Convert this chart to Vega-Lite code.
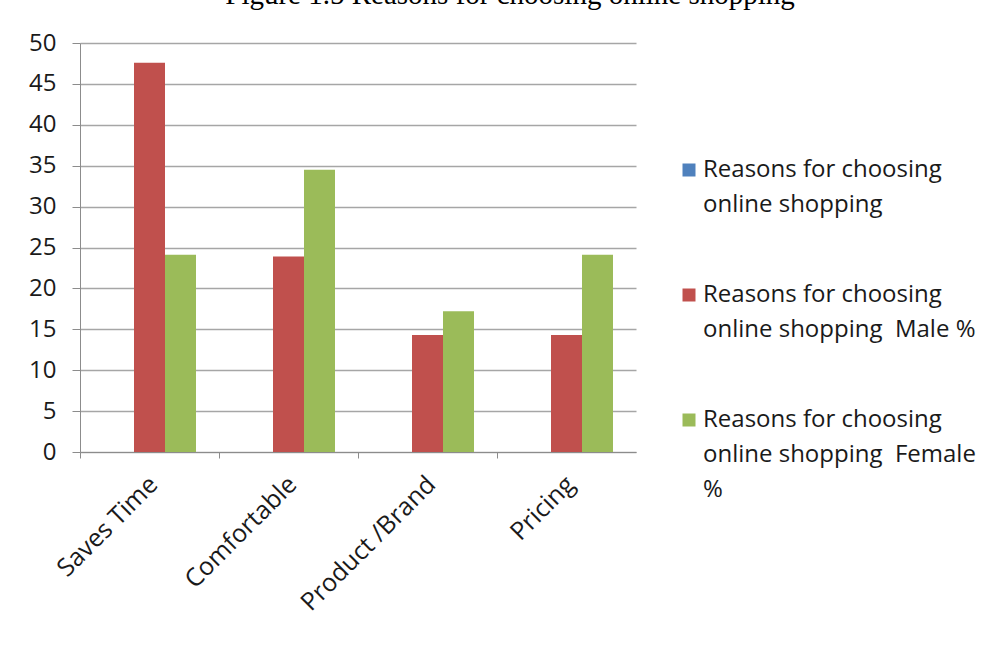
{
  "$schema": "https://vega.github.io/schema/vega-lite/v6.json",
  "autosize": "none",
  "width": 556,
  "height": 409,
  "padding": {"left": 80, "top": 43, "right": 367, "bottom": 193},
  "background": "white",
  "title": {
    "text": "Figure 1.5 Reasons for choosing online shopping",
    "font": "Liberation Serif",
    "fontSize": 29,
    "fontWeight": "normal",
    "color": "#000000",
    "anchor": "middle",
    "baseline": "alphabetic",
    "offset": -2,
    "dx": 152
  },
  "data": {
    "values": [
      {"reason": "Saves Time", "series": "Reasons for choosing online shopping  Male %", "value": 47.6},
      {"reason": "Saves Time", "series": "Reasons for choosing online shopping  Female %", "value": 24.1},
      {"reason": "Comfortable", "series": "Reasons for choosing online shopping  Male %", "value": 23.9},
      {"reason": "Comfortable", "series": "Reasons for choosing online shopping  Female %", "value": 34.5},
      {"reason": "Product /Brand", "series": "Reasons for choosing online shopping  Male %", "value": 14.3},
      {"reason": "Product /Brand", "series": "Reasons for choosing online shopping  Female %", "value": 17.2},
      {"reason": "Pricing", "series": "Reasons for choosing online shopping  Male %", "value": 14.3},
      {"reason": "Pricing", "series": "Reasons for choosing online shopping  Female %", "value": 24.1}
    ]
  },
  "mark": {"type": "bar"},
  "encoding": {
    "x": {
      "field": "reason",
      "type": "nominal",
      "sort": ["Saves Time", "Comfortable", "Product /Brand", "Pricing"],
      "scale": {"paddingInner": 0, "paddingOuter": 0},
      "axis": {
        "title": null,
        "bandPosition": 0,
        "labelAngle": -45,
        "labelAlign": "right",
        "labelBaseline": "middle",
        "labelOffset": 4,
        "labelPadding": 22,
        "labelFont": "Open Sans",
        "labelFontSize": 25,
        "labelColor": "#1a1a1a",
        "labelLimit": 400,
        "tickSize": 6,
        "tickColor": "#8c8c8c",
        "domainColor": "#8c8c8c",
        "grid": false
      }
    },
    "xOffset": {
      "field": "series",
      "type": "nominal",
      "scale": {
        "domain": ["Reasons for choosing online shopping", "Reasons for choosing online shopping  Male %", "Reasons for choosing online shopping  Female %"],
        "paddingInner": 0,
        "paddingOuter": 0.742
      }
    },
    "y": {
      "field": "value",
      "type": "quantitative",
      "scale": {"domain": [0, 50], "nice": false},
      "axis": {
        "title": null,
        "values": [0, 5, 10, 15, 20, 25, 30, 35, 40, 45, 50],
        "labelFont": "Open Sans",
        "labelFontSize": 24,
        "labelColor": "#1a1a1a",
        "labelPadding": 16,
        "tickSize": 8,
        "tickColor": "#8c8c8c",
        "domainColor": "#8c8c8c",
        "gridColor": "#a6a6a6",
        "gridWidth": 1.3
      }
    },
    "color": {
      "field": "series",
      "type": "nominal",
      "scale": {
        "domain": ["Reasons for choosing online shopping", "Reasons for choosing online shopping  Male %", "Reasons for choosing online shopping  Female %"],
        "range": ["#4F81BD", "#C0504D", "#9BBB59"]
      },
      "legend": {
        "title": null,
        "orient": "none",
        "legendX": 597,
        "legendY": 115,
        "symbolType": "square",
        "symbolSize": 169,
        "symbolStrokeWidth": 0,
        "symbolOpacity": 1,
        "labelFont": "Open Sans",
        "labelFontSize": 24,
        "labelColor": "#1a1a1a",
        "labelLimit": 400,
        "labelOffset": 2,
        "rowPadding": 66,
        "labelExpr": "indexof(datum.label, 'Female') > 0 ? ['Reasons for choosing', 'online shopping\u00a0 Female', '%'] : indexof(datum.label, 'Male') > 0 ? ['Reasons for choosing', 'online shopping\u00a0 Male %'] : ['Reasons for choosing', 'online shopping']"
      }
    }
  },
  "config": {
    "view": {"stroke": null},
    "style": {"guide-label": {"lineHeight": 35}}
  }
}
